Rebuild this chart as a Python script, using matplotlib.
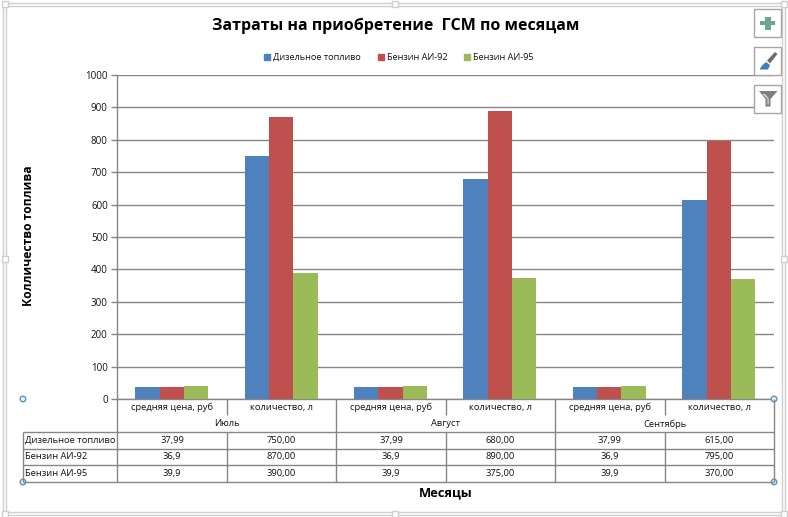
import matplotlib
matplotlib.use("Agg")
import matplotlib.pyplot as plt
from matplotlib.lines import Line2D
from matplotlib.patches import Rectangle, Polygon, Circle
from matplotlib.transforms import Affine2D

title = "Затраты на приобретение  ГСМ по месяцам"
xlabel = "Месяцы"
ylabel = "Колличество топлива"
months = ["Июль", "Август", "Сентябрь"]
measures = ["средняя цена, руб", "количество, л"] * 3
series_names = ["Дизельное топливо", "Бензин АИ-92", "Бензин АИ-95"]
diesel = [37.99, 750, 37.99, 680, 37.99, 615]
ai92 = [36.9, 870, 36.9, 890, 36.9, 795]
ai95 = [39.9, 390, 39.9, 375, 39.9, 370]
diesel_txt = ["37,99", "750,00", "37,99", "680,00", "37,99", "615,00"]
ai92_txt = ["36,9", "870,00", "36,9", "890,00", "36,9", "795,00"]
ai95_txt = ["39,9", "390,00", "39,9", "375,00", "39,9", "370,00"]
colors = ["#4F81BD", "#C0504D", "#9BBB59"]
yticks = list(range(0, 1001, 100))

W, H = 788, 517
plt.rcParams["font.family"] = ["Open Sans", "DejaVu Sans"]
fig = plt.figure(figsize=(W / 100, H / 100), dpi=100)
px = Affine2D().scale(1 / W, -1 / H).translate(0, 1) + fig.transFigure

L, R, T, B = 117.5, 774.0, 75.0, 399.0
ax = fig.add_axes([L / W, 1 - B / H, (R - L) / W, (B - T) / H])
GRID = "#868686"
w = 0.222
for i, (vals, c, name) in enumerate(zip([diesel, ai92, ai95], colors, series_names)):
    ax.bar([k + (i - 1) * w - 0.005 for k in range(len(vals))], vals, w, color=c, label=name, zorder=3)
ax.set_xlim(-0.5, 5.5)
ax.set_ylim(0, 1000)
ax.set_yticks(yticks)
ax.set_xticks([])
ax.tick_params(axis="y", length=4, width=1, color=GRID, labelsize=7.0, pad=3, labelcolor="#111111")
ax.grid(axis="y", color=GRID, lw=1, zorder=0)
ax.set_axisbelow(True)
for s in ["top", "right"]:
    ax.spines[s].set_visible(False)
for s in ["left", "bottom"]:
    ax.spines[s].set_color(GRID)
    ax.spines[s].set_linewidth(1)


def line(xs, ys, c=GRID, lw=1.0):
    fig.add_artist(Line2D(xs, ys, color=c, lw=lw, transform=px, solid_capstyle="butt"))


def text(x, y, s, **kw):
    kw.setdefault("fontsize", 6.75)
    kw.setdefault("color", "#111111")
    kw.setdefault("ha", "center")
    kw.setdefault("va", "center")
    fig.text(x, y, s, transform=px, **kw)


# data table
cw = (R - L) / 6
rows = [399, 415, 431.5, 448.5, 465, 481.5]
left = 23.5
for y in rows[2:]:
    line([left, R], [y, y])
line([left, left], [rows[2], rows[5]])
line([L, L], [rows[0], rows[5]])
for k in range(1, 7):
    x = L + k * cw
    if k % 2:
        line([x, x], [rows[0], rows[1]])
        line([x, x], [rows[2], rows[5]])
    else:
        line([x, x], [rows[0], rows[5]])
for k, m in enumerate(measures):
    text(L + (k + .5) * cw, 407.5, m)
for k, m in enumerate(months):
    text(L + (2 * k + 1) * cw, 424, m)
for r, (name, txt) in enumerate(zip(series_names, [diesel_txt, ai92_txt, ai95_txt])):
    y = (rows[2 + r] + rows[3 + r]) / 2
    text(25.5, y, name, ha="left")
    for k, t in enumerate(txt):
        text(L + (k + .5) * cw, y, t)

# titles
text(396, 26, title, fontsize=11.5, fontweight="bold", color="#000000")
text(446, 492.5, xlabel, fontsize=9.3, fontweight="bold", color="#000000")
text(29, 235.5, ylabel, fontsize=8.7, fontweight="bold", color="#000000", rotation=90)

# legend
for sx, tx, name, c in zip([264, 378, 464], [273, 387, 473], series_names, colors):
    fig.add_artist(Rectangle((sx, 54), 6, 6, color=c, transform=px))
    text(tx, 57.5, name, ha="left", fontsize=6.6)

# selection frame
FR = "#CFCFCF"
for x0, y0, x1, y1 in [(3, 2.5, 785, 514.5), (6, 5.5, 782, 511.5)]:
    fig.add_artist(Rectangle((x0, y0), x1 - x0, y1 - y0, fill=False, ec=FR, lw=1, transform=px))
for x, y in [(5, 4), (395, 4), (784, 4), (5, 259), (784, 259), (5, 514), (395, 514), (784, 514)]:
    fig.add_artist(Rectangle((x - 3, y - 3), 6, 6, fc="white", ec=FR, lw=1, transform=px))

# plot-area handles
for x, y in [(23, 399), (23, 482), (774, 399), (774, 482)]:
    fig.add_artist(Circle((x, y), 2.8, fc="#EAF2F8", ec="#5B93BF", lw=1, transform=px))

# side buttons
BT = "#A6A6A6"
for y0 in (9, 47, 85):
    fig.add_artist(Rectangle((754.5, y0), 27, 27.5, fc="white", ec=BT, lw=1, transform=px, zorder=5))
fig.add_artist(Rectangle((765, 17), 5.6, 13, fc="#6AA78F", ec="none", transform=px, zorder=6))
fig.add_artist(Rectangle((760.5, 20.7), 14.5, 4.8, fc="#6AA78F", ec="none", transform=px, zorder=6))
fig.add_artist(Polygon([(767, 60.5), (775, 52), (777.5, 54), (770, 63.5)], fc="#6E6E6E", ec="none", transform=px, zorder=6))
fig.add_artist(Polygon([(759.5, 69.5), (762, 65.5), (766, 62), (770, 65), (768, 69.5)], fc="#3F7FBF", ec="none", transform=px, zorder=6))
fig.add_artist(Polygon([(759, 91), (777.5, 91), (770.5, 99), (770.5, 106.5), (765.5, 106.5), (765.5, 99)],
                       fc="#7F7F7F", ec="none", transform=px, zorder=6))
fig.add_artist(Polygon([(762.5, 94), (767.5, 99), (767.5, 104.5), (768.7, 104.5), (768.7, 98.5), (765, 94)],
                       fc="#D9D9D9", ec="none", transform=px, zorder=7))

fig.savefig("out.png", dpi=100)
